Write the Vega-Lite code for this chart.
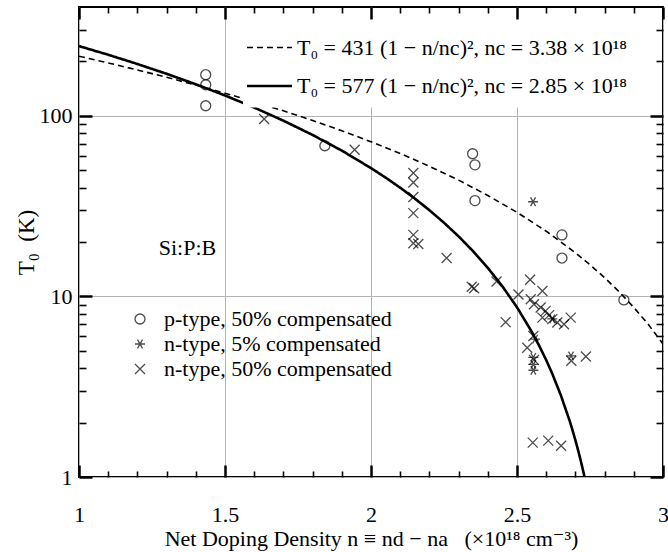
{
  "$schema": "https://vega.github.io/schema/vega-lite/v6.json",
  "width": 584,
  "height": 470,
  "autosize": "none",
  "padding": {"left": 79, "top": 7, "right": 5, "bottom": 75},
  "config": {
    "view": {"stroke": "black", "strokeWidth": 2},
    "font": "Liberation Serif, Times New Roman, Tinos, DejaVu Serif, serif",
    "axis": {
      "labelFont": "Liberation Serif, Times New Roman, Tinos, DejaVu Serif, serif",
      "titleFont": "Liberation Serif, Times New Roman, Tinos, DejaVu Serif, serif",
      "labelColor": "black",
      "titleColor": "black",
      "titleFontWeight": "normal",
      "tickColor": "black",
      "domainColor": "black",
      "gridColor": "#b3b3b3",
      "gridWidth": 1,
      "labelFlush": false,
      "labelOverlap": false
    },
    "legend": {"labelFont": "Liberation Serif, Times New Roman, Tinos, DejaVu Serif, serif", "labelColor": "black"}
  },
  "datasets": {
    "curves": [
      {"curve": "T₀ = 431 (1 − n/nc)², nc = 3.38 × 10¹⁸", "n": 1.0, "T": 213.7},
      {"curve": "T₀ = 431 (1 − n/nc)², nc = 3.38 × 10¹⁸", "n": 1.1, "T": 196.1},
      {"curve": "T₀ = 431 (1 − n/nc)², nc = 3.38 × 10¹⁸", "n": 1.2, "T": 179.3},
      {"curve": "T₀ = 431 (1 − n/nc)², nc = 3.38 × 10¹⁸", "n": 1.3, "T": 163.2},
      {"curve": "T₀ = 431 (1 − n/nc)², nc = 3.38 × 10¹⁸", "n": 1.4, "T": 147.9},
      {"curve": "T₀ = 431 (1 − n/nc)², nc = 3.38 × 10¹⁸", "n": 1.5, "T": 133.3},
      {"curve": "T₀ = 431 (1 − n/nc)², nc = 3.38 × 10¹⁸", "n": 1.6, "T": 119.5},
      {"curve": "T₀ = 431 (1 − n/nc)², nc = 3.38 × 10¹⁸", "n": 1.7, "T": 106.5},
      {"curve": "T₀ = 431 (1 − n/nc)², nc = 3.38 × 10¹⁸", "n": 1.8, "T": 94.2},
      {"curve": "T₀ = 431 (1 − n/nc)², nc = 3.38 × 10¹⁸", "n": 1.9, "T": 82.6},
      {"curve": "T₀ = 431 (1 − n/nc)², nc = 3.38 × 10¹⁸", "n": 2.0, "T": 71.8},
      {"curve": "T₀ = 431 (1 − n/nc)², nc = 3.38 × 10¹⁸", "n": 2.1, "T": 61.8},
      {"curve": "T₀ = 431 (1 − n/nc)², nc = 3.38 × 10¹⁸", "n": 2.2, "T": 52.5},
      {"curve": "T₀ = 431 (1 − n/nc)², nc = 3.38 × 10¹⁸", "n": 2.3, "T": 44.0},
      {"curve": "T₀ = 431 (1 − n/nc)², nc = 3.38 × 10¹⁸", "n": 2.4, "T": 36.2},
      {"curve": "T₀ = 431 (1 − n/nc)², nc = 3.38 × 10¹⁸", "n": 2.5, "T": 29.2},
      {"curve": "T₀ = 431 (1 − n/nc)², nc = 3.38 × 10¹⁸", "n": 2.6, "T": 22.95},
      {"curve": "T₀ = 431 (1 − n/nc)², nc = 3.38 × 10¹⁸", "n": 2.7, "T": 17.44},
      {"curve": "T₀ = 431 (1 − n/nc)², nc = 3.38 × 10¹⁸", "n": 2.75, "T": 14.97},
      {"curve": "T₀ = 431 (1 − n/nc)², nc = 3.38 × 10¹⁸", "n": 2.8, "T": 12.69},
      {"curve": "T₀ = 431 (1 − n/nc)², nc = 3.38 × 10¹⁸", "n": 2.85, "T": 10.6},
      {"curve": "T₀ = 431 (1 − n/nc)², nc = 3.38 × 10¹⁸", "n": 2.9, "T": 8.69},
      {"curve": "T₀ = 431 (1 − n/nc)², nc = 3.38 × 10¹⁸", "n": 2.95, "T": 6.98},
      {"curve": "T₀ = 431 (1 − n/nc)², nc = 3.38 × 10¹⁸", "n": 3.0, "T": 5.45},
      {"curve": "T₀ = 577 (1 − n/nc)², nc = 2.85 × 10¹⁸", "n": 1.0, "T": 243.1},
      {"curve": "T₀ = 577 (1 − n/nc)², nc = 2.85 × 10¹⁸", "n": 1.1, "T": 217.6},
      {"curve": "T₀ = 577 (1 − n/nc)², nc = 2.85 × 10¹⁸", "n": 1.2, "T": 193.4},
      {"curve": "T₀ = 577 (1 − n/nc)², nc = 2.85 × 10¹⁸", "n": 1.3, "T": 170.7},
      {"curve": "T₀ = 577 (1 − n/nc)², nc = 2.85 × 10¹⁸", "n": 1.4, "T": 149.4},
      {"curve": "T₀ = 577 (1 − n/nc)², nc = 2.85 × 10¹⁸", "n": 1.5, "T": 129.5},
      {"curve": "T₀ = 577 (1 − n/nc)², nc = 2.85 × 10¹⁸", "n": 1.6, "T": 111.0},
      {"curve": "T₀ = 577 (1 − n/nc)², nc = 2.85 × 10¹⁸", "n": 1.7, "T": 93.9},
      {"curve": "T₀ = 577 (1 − n/nc)², nc = 2.85 × 10¹⁸", "n": 1.8, "T": 78.3},
      {"curve": "T₀ = 577 (1 − n/nc)², nc = 2.85 × 10¹⁸", "n": 1.9, "T": 64.1},
      {"curve": "T₀ = 577 (1 − n/nc)², nc = 2.85 × 10¹⁸", "n": 2.0, "T": 51.3},
      {"curve": "T₀ = 577 (1 − n/nc)², nc = 2.85 × 10¹⁸", "n": 2.05, "T": 45.46},
      {"curve": "T₀ = 577 (1 − n/nc)², nc = 2.85 × 10¹⁸", "n": 2.1, "T": 39.96},
      {"curve": "T₀ = 577 (1 − n/nc)², nc = 2.85 × 10¹⁸", "n": 2.15, "T": 34.81},
      {"curve": "T₀ = 577 (1 − n/nc)², nc = 2.85 × 10¹⁸", "n": 2.2, "T": 30.0},
      {"curve": "T₀ = 577 (1 − n/nc)², nc = 2.85 × 10¹⁸", "n": 2.25, "T": 25.57},
      {"curve": "T₀ = 577 (1 − n/nc)², nc = 2.85 × 10¹⁸", "n": 2.3, "T": 21.49},
      {"curve": "T₀ = 577 (1 − n/nc)², nc = 2.85 × 10¹⁸", "n": 2.35, "T": 17.76},
      {"curve": "T₀ = 577 (1 − n/nc)², nc = 2.85 × 10¹⁸", "n": 2.4, "T": 14.38},
      {"curve": "T₀ = 577 (1 − n/nc)², nc = 2.85 × 10¹⁸", "n": 2.45, "T": 11.37},
      {"curve": "T₀ = 577 (1 − n/nc)², nc = 2.85 × 10¹⁸", "n": 2.5, "T": 8.7},
      {"curve": "T₀ = 577 (1 − n/nc)², nc = 2.85 × 10¹⁸", "n": 2.55, "T": 6.39},
      {"curve": "T₀ = 577 (1 − n/nc)², nc = 2.85 × 10¹⁸", "n": 2.575, "T": 5.37},
      {"curve": "T₀ = 577 (1 − n/nc)², nc = 2.85 × 10¹⁸", "n": 2.6, "T": 4.44},
      {"curve": "T₀ = 577 (1 − n/nc)², nc = 2.85 × 10¹⁸", "n": 2.62, "T": 3.758},
      {"curve": "T₀ = 577 (1 − n/nc)², nc = 2.85 × 10¹⁸", "n": 2.65, "T": 2.84},
      {"curve": "T₀ = 577 (1 − n/nc)², nc = 2.85 × 10¹⁸", "n": 2.68, "T": 2.053},
      {"curve": "T₀ = 577 (1 − n/nc)², nc = 2.85 × 10¹⁸", "n": 2.69, "T": 1.8185},
      {"curve": "T₀ = 577 (1 − n/nc)², nc = 2.85 × 10¹⁸", "n": 2.7, "T": 1.598},
      {"curve": "T₀ = 577 (1 − n/nc)², nc = 2.85 × 10¹⁸", "n": 2.71, "T": 1.392},
      {"curve": "T₀ = 577 (1 − n/nc)², nc = 2.85 × 10¹⁸", "n": 2.72, "T": 1.2},
      {"curve": "T₀ = 577 (1 − n/nc)², nc = 2.85 × 10¹⁸", "n": 2.7314, "T": 1.0}
    ],
    "pts": [
      {"type": "p-type, 50% compensated", "n": 1.434, "T": 168.7},
      {"type": "p-type, 50% compensated", "n": 1.434, "T": 148.5},
      {"type": "p-type, 50% compensated", "n": 1.434, "T": 113.6},
      {"type": "p-type, 50% compensated", "n": 1.842, "T": 68.2},
      {"type": "p-type, 50% compensated", "n": 2.348, "T": 61.6},
      {"type": "p-type, 50% compensated", "n": 2.356, "T": 53.5},
      {"type": "p-type, 50% compensated", "n": 2.356, "T": 33.9},
      {"type": "p-type, 50% compensated", "n": 2.654, "T": 21.9},
      {"type": "p-type, 50% compensated", "n": 2.654, "T": 16.3},
      {"type": "p-type, 50% compensated", "n": 2.866, "T": 9.56},
      {"type": "n-type, 5% compensated", "n": 2.555, "T": 33.4},
      {"type": "n-type, 5% compensated", "n": 2.562, "T": 5.8},
      {"type": "n-type, 5% compensated", "n": 2.556, "T": 4.6},
      {"type": "n-type, 5% compensated", "n": 2.556, "T": 4.2},
      {"type": "n-type, 5% compensated", "n": 2.556, "T": 3.9},
      {"type": "n-type, 5% compensated", "n": 2.685, "T": 4.68},
      {"type": "n-type, 5% compensated", "n": 2.621, "T": 7.5},
      {"type": "n-type, 50% compensated", "n": 1.634, "T": 95.9},
      {"type": "n-type, 50% compensated", "n": 1.944, "T": 64.8},
      {"type": "n-type, 50% compensated", "n": 2.145, "T": 48.2},
      {"type": "n-type, 50% compensated", "n": 2.145, "T": 42.7},
      {"type": "n-type, 50% compensated", "n": 2.145, "T": 35.5},
      {"type": "n-type, 50% compensated", "n": 2.145, "T": 28.9},
      {"type": "n-type, 50% compensated", "n": 2.145, "T": 21.9},
      {"type": "n-type, 50% compensated", "n": 2.145, "T": 19.7},
      {"type": "n-type, 50% compensated", "n": 2.162, "T": 19.5},
      {"type": "n-type, 50% compensated", "n": 2.259, "T": 16.3},
      {"type": "n-type, 50% compensated", "n": 2.345, "T": 11.3},
      {"type": "n-type, 50% compensated", "n": 2.353, "T": 11.1},
      {"type": "n-type, 50% compensated", "n": 2.43, "T": 12.1},
      {"type": "n-type, 50% compensated", "n": 2.461, "T": 7.2},
      {"type": "n-type, 50% compensated", "n": 2.505, "T": 10.25},
      {"type": "n-type, 50% compensated", "n": 2.545, "T": 12.35},
      {"type": "n-type, 50% compensated", "n": 2.587, "T": 10.7},
      {"type": "n-type, 50% compensated", "n": 2.547, "T": 9.65},
      {"type": "n-type, 50% compensated", "n": 2.558, "T": 9.05},
      {"type": "n-type, 50% compensated", "n": 2.581, "T": 8.67},
      {"type": "n-type, 50% compensated", "n": 2.598, "T": 8.31},
      {"type": "n-type, 50% compensated", "n": 2.61, "T": 7.87},
      {"type": "n-type, 50% compensated", "n": 2.587, "T": 7.63},
      {"type": "n-type, 50% compensated", "n": 2.621, "T": 7.48},
      {"type": "n-type, 50% compensated", "n": 2.638, "T": 7.16},
      {"type": "n-type, 50% compensated", "n": 2.661, "T": 7.01},
      {"type": "n-type, 50% compensated", "n": 2.684, "T": 7.63},
      {"type": "n-type, 50% compensated", "n": 2.556, "T": 6.04},
      {"type": "n-type, 50% compensated", "n": 2.535, "T": 5.2},
      {"type": "n-type, 50% compensated", "n": 2.558, "T": 4.45},
      {"type": "n-type, 50% compensated", "n": 2.686, "T": 4.4},
      {"type": "n-type, 50% compensated", "n": 2.736, "T": 4.65},
      {"type": "n-type, 50% compensated", "n": 2.554, "T": 1.55},
      {"type": "n-type, 50% compensated", "n": 2.607, "T": 1.59},
      {"type": "n-type, 50% compensated", "n": 2.651, "T": 1.49}
    ]
  },
  "layer": [
    {
      "data": {"name": "curves"},
      "mark": {"type": "line", "color": "black", "strokeCap": "butt", "clip": true},
      "encoding": {
        "x": {
          "field": "n", "type": "quantitative",
          "scale": {"domain": [1, 3], "nice": false, "zero": false},
          "axis": {
            "orient": "bottom", "values": [1, 1.5, 2, 2.5, 3], "format": "~g",
            "grid": true, "ticks": false, "domain": false,
            "labelPadding": 27, "labelFontSize": 22,
            "title": "Net Doping Density n ≡ nd − na\u00a0\u00a0\u00a0(×10¹⁸ cm⁻³)",
            "titleFontSize": 22, "titlePadding": 3.5, "zindex": 0
          }
        },
        "y": {
          "field": "T", "type": "quantitative",
          "scale": {"type": "log", "domain": [1, 400], "nice": false},
          "axis": {
            "orient": "left", "values": [1, 10, 100], "format": "d",
            "grid": true, "ticks": false, "domain": false,
            "labelPadding": 7, "labelFontSize": 22,
            "title": "T₀\u00a0\u00a0(K)", "titleFontSize": 23, "titlePadding": 1, "zindex": 0
          }
        },
        "strokeDash": {
          "field": "curve", "type": "ordinal",
          "scale": {
            "domain": ["T₀ = 431 (1 − n/nc)², nc = 3.38 × 10¹⁸", "T₀ = 577 (1 − n/nc)², nc = 2.85 × 10¹⁸"],
            "range": [[6, 4], [1, 0]]
          },
          "legend": {
            "orient": "none", "legendX": 164, "legendY": 1.5, "title": " ",
            "titleFontSize": 1, "titlePadding": 12,
            "fillColor": "white", "padding": 10,
            "symbolType": "M-1.5,0H1.5", "symbolSize": 900, "symbolStrokeColor": "black",
            "labelFontSize": 22, "labelLimit": 600, "labelOffset": 11, "rowPadding": 11
          }
        },
        "strokeWidth": {
          "field": "curve", "type": "ordinal",
          "scale": {
            "domain": ["T₀ = 431 (1 − n/nc)², nc = 3.38 × 10¹⁸", "T₀ = 577 (1 − n/nc)², nc = 2.85 × 10¹⁸"],
            "range": [1.6, 2.6]
          },
          "legend": {
            "orient": "none", "legendX": 164, "legendY": 1.5, "title": " ",
            "titleFontSize": 1, "titlePadding": 12,
            "fillColor": "white", "padding": 10,
            "symbolType": "M-1.5,0H1.5", "symbolSize": 900, "symbolStrokeColor": "black",
            "labelFontSize": 22, "labelLimit": 600, "labelOffset": 11, "rowPadding": 11
          }
        }
      }
    },
    {
      "data": {"name": "pts"},
      "transform": [{"filter": "datum.type === 'p-type, 50% compensated'"}],
      "mark": {"type": "point", "filled": false, "stroke": "black", "strokeWidth": 1.3, "size": 100},
      "encoding": {
        "x": {
          "field": "n", "type": "quantitative",
          "scale": {"domain": [1, 3], "nice": false, "zero": false},
          "axis": {
            "orient": "bottom", "values": [1, 1.5, 2, 2.5, 3], "offset": -12,
            "grid": false, "labels": false, "domain": false, "ticks": true,
            "tickSize": 12, "tickWidth": 2.5, "tickColor": "black", "title": null, "zindex": 0
          }
        },
        "y": {
          "field": "T", "type": "quantitative",
          "scale": {"type": "log", "domain": [1, 400], "nice": false},
          "axis": {
            "orient": "left", "values": [1, 10, 100], "offset": -13,
            "grid": false, "labels": false, "domain": false, "ticks": true,
            "tickSize": 13, "tickWidth": 2.5, "tickColor": "black", "title": null, "zindex": 0
          }
        },
        "shape": {
          "field": "type", "type": "nominal",
          "scale": {
            "domain": ["p-type, 50% compensated", "n-type, 5% compensated", "n-type, 50% compensated"],
            "range": ["circle", "M-1,0L1,0M-0.5,-0.866L0.5,0.866M-0.5,0.866L0.5,-0.866", "M-1,-1L1,1M-1,1L1,-1"]
          },
          "legend": {
            "orient": "none", "legendX": 50, "legendY": 301, "title": null, "padding": 0,
            "symbolSize": 100, "symbolStrokeColor": "black", "symbolStrokeWidth": 1.3,
            "symbolFillColor": "transparent", "labelFontSize": 22, "labelLimit": 600,
            "labelOffset": 13, "rowPadding": 3
          }
        }
      }
    },
    {
      "data": {"name": "pts"},
      "transform": [{"filter": "datum.type === 'n-type, 5% compensated'"}],
      "mark": {"type": "point", "filled": false, "stroke": "black", "strokeWidth": 1.3, "size": 100},
      "encoding": {
        "x": {
          "field": "n", "type": "quantitative",
          "scale": {"domain": [1, 3], "nice": false, "zero": false},
          "axis": {
            "orient": "bottom", "values": [1.1, 1.2, 1.3, 1.4, 1.6, 1.7, 1.8, 1.9, 2.1, 2.2, 2.3, 2.4, 2.6, 2.7, 2.8, 2.9],
            "offset": -6, "grid": false, "labels": false, "domain": false, "ticks": true,
            "tickSize": 6, "tickWidth": 1.6, "tickColor": "black", "title": null, "zindex": 0
          }
        },
        "y": {
          "field": "T", "type": "quantitative",
          "scale": {"type": "log", "domain": [1, 400], "nice": false},
          "axis": {
            "orient": "left", "values": [2, 3, 4, 5, 6, 7, 8, 9, 20, 30, 40, 50, 60, 70, 80, 90, 200, 300],
            "offset": -7, "grid": false, "labels": false, "domain": false, "ticks": true,
            "tickSize": 7, "tickWidth": 1.6, "tickColor": "black", "title": null, "zindex": 0
          }
        },
        "shape": {
          "field": "type", "type": "nominal",
          "scale": {
            "domain": ["p-type, 50% compensated", "n-type, 5% compensated", "n-type, 50% compensated"],
            "range": ["circle", "M-1,0L1,0M-0.5,-0.866L0.5,0.866M-0.5,0.866L0.5,-0.866", "M-1,-1L1,1M-1,1L1,-1"]
          },
          "legend": {
            "orient": "none", "legendX": 50, "legendY": 301, "title": null, "padding": 0,
            "symbolSize": 100, "symbolStrokeColor": "black", "symbolStrokeWidth": 1.3,
            "symbolFillColor": "transparent", "labelFontSize": 22, "labelLimit": 600,
            "labelOffset": 13, "rowPadding": 3
          }
        }
      }
    },
    {
      "data": {"name": "pts"},
      "transform": [{"filter": "datum.type === 'n-type, 50% compensated'"}],
      "mark": {"type": "point", "filled": false, "stroke": "black", "strokeWidth": 1.3, "size": 100},
      "encoding": {
        "x": {
          "field": "n", "type": "quantitative",
          "scale": {"domain": [1, 3], "nice": false, "zero": false},
          "axis": {
            "orient": "top", "values": [1, 1.5, 2, 2.5, 3], "offset": -12,
            "grid": false, "labels": false, "domain": false, "ticks": true,
            "tickSize": 12, "tickWidth": 2.5, "tickColor": "black", "title": null, "zindex": 1
          }
        },
        "y": {
          "field": "T", "type": "quantitative",
          "scale": {"type": "log", "domain": [1, 400], "nice": false},
          "axis": {
            "orient": "right", "values": [1, 10, 100], "offset": -13,
            "grid": false, "labels": false, "domain": false, "ticks": true,
            "tickSize": 13, "tickWidth": 2.5, "tickColor": "black", "title": null, "zindex": 1
          }
        },
        "shape": {
          "field": "type", "type": "nominal",
          "scale": {
            "domain": ["p-type, 50% compensated", "n-type, 5% compensated", "n-type, 50% compensated"],
            "range": ["circle", "M-1,0L1,0M-0.5,-0.866L0.5,0.866M-0.5,0.866L0.5,-0.866", "M-1,-1L1,1M-1,1L1,-1"]
          },
          "legend": {
            "orient": "none", "legendX": 50, "legendY": 301, "title": null, "padding": 0,
            "symbolSize": 100, "symbolStrokeColor": "black", "symbolStrokeWidth": 1.3,
            "symbolFillColor": "transparent", "labelFontSize": 22, "labelLimit": 600,
            "labelOffset": 13, "rowPadding": 3
          }
        }
      }
    },
    {
      "data": {"values": [{"label": "Si:P:B", "n": 1.3715, "T": 18.57}]},
      "mark": {"type": "text", "fontSize": 22, "color": "black", "align": "center", "baseline": "middle"},
      "encoding": {
        "x": {
          "field": "n", "type": "quantitative",
          "scale": {"domain": [1, 3], "nice": false, "zero": false},
          "axis": {
            "orient": "top", "values": [1.1, 1.2, 1.3, 1.4, 1.6, 1.7, 1.8, 1.9, 2.1, 2.2, 2.3, 2.4, 2.6, 2.7, 2.8, 2.9],
            "offset": -6, "grid": false, "labels": false, "domain": false, "ticks": true,
            "tickSize": 6, "tickWidth": 1.6, "tickColor": "black", "title": null, "zindex": 1
          }
        },
        "y": {
          "field": "T", "type": "quantitative",
          "scale": {"type": "log", "domain": [1, 400], "nice": false},
          "axis": {
            "orient": "right", "values": [2, 3, 4, 5, 6, 7, 8, 9, 20, 30, 40, 50, 60, 70, 80, 90, 200, 300],
            "offset": -7, "grid": false, "labels": false, "domain": false, "ticks": true,
            "tickSize": 7, "tickWidth": 1.6, "tickColor": "black", "title": null, "zindex": 1
          }
        },
        "text": {"field": "label"}
      }
    }
  ],
  "resolve": {"axis": {"x": "independent", "y": "independent"}}
}
